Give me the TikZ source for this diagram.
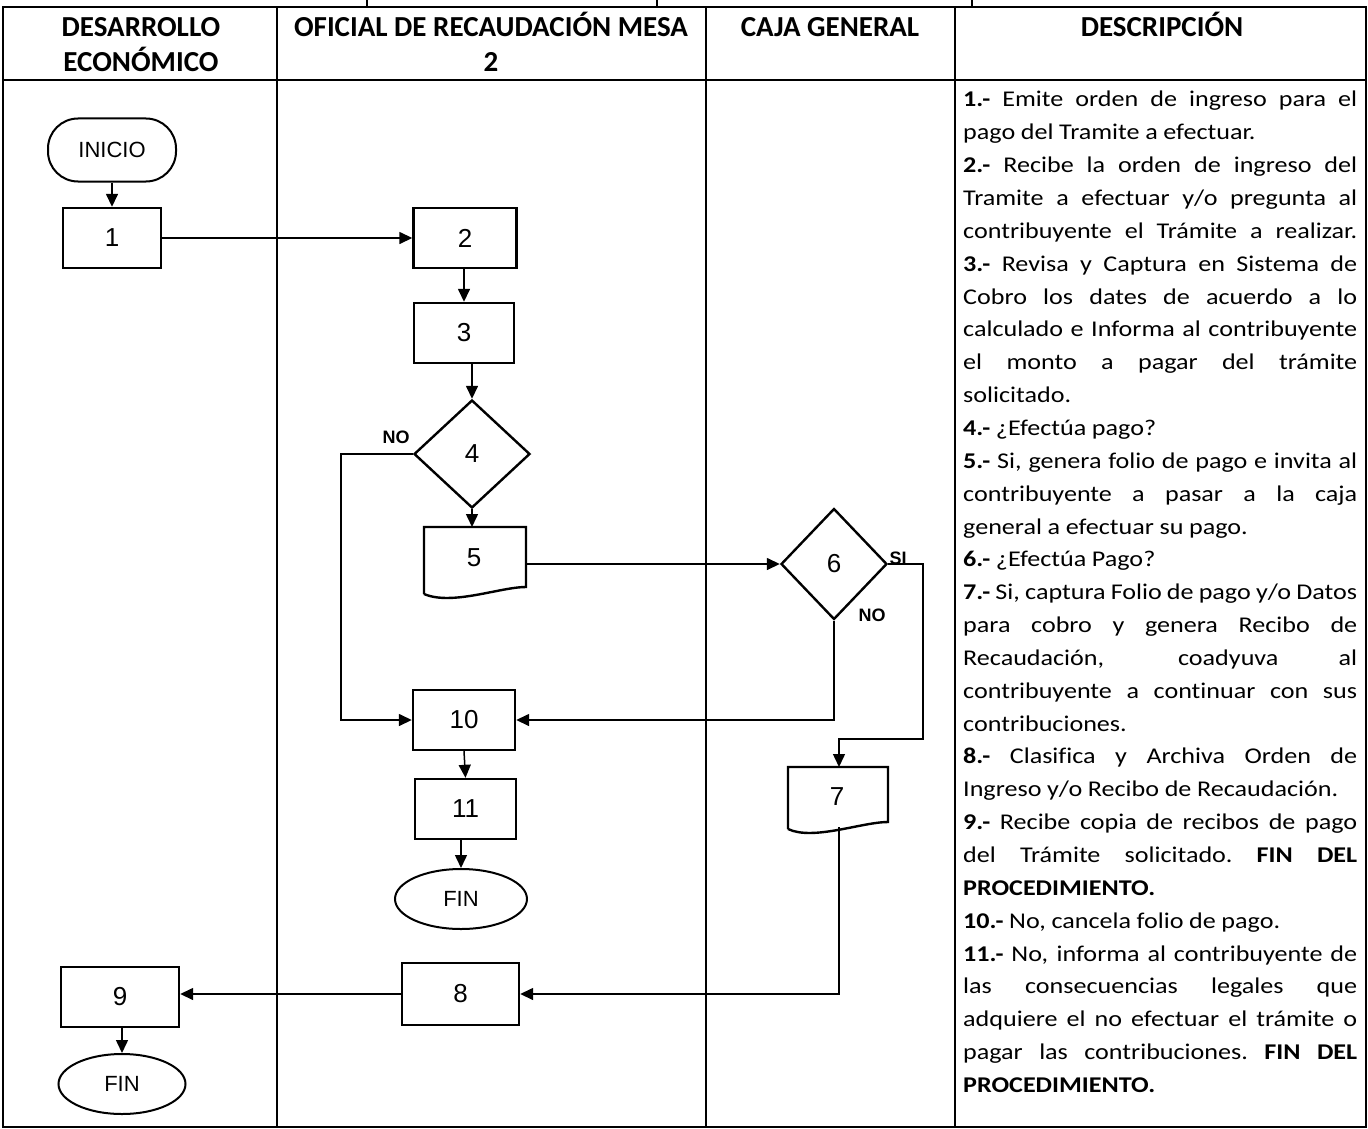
\documentclass[tikz,border=0pt]{standalone}
\usepackage{fontspec}
\setmainfont{Carlito}
\newfontfamily\descf{Carlito}[FakeStretch=1.16, Ligatures=NoCommon]
\newfontfamily\arialf{Liberation Sans}
\usetikzlibrary{shapes.geometric,arrows.meta}
\newcommand\J[1]{\makebox[394pt][s]{#1}}
\tikzset{
  tab/.style={line width=1.7pt},
  hdr/.style={inner sep=0pt, font=\bfseries\fontsize{29}{29}\selectfont},
  pbox/.style={draw, line width=2.4pt, minimum width=100pt, minimum height=60pt, inner sep=0pt, font=\arialf\fontsize{26}{26}\selectfont},
  dec/.style={draw, diamond, line width=2.4pt, inner sep=0pt, font=\arialf\fontsize{26}{26}\selectfont},
  term/.style={draw, ellipse, line width=2pt, inner sep=0pt, font=\arialf\fontsize{22}{22}\selectfont},
  startbox/.style={draw, rectangle, rounded corners=30pt, line width=2pt, inner sep=0pt, font=\arialf\fontsize{22}{22}\selectfont},
  docline/.style={line width=2.4pt, line join=miter},
  doclabel/.style={inner sep=0pt, font=\arialf\fontsize{26}{26}\selectfont},
  conn/.style={line width=1.5pt, -{Triangle[length=13pt,width=12pt]}},
  cline/.style={line width=1.5pt},
  lbl/.style={inner sep=0pt, font=\arialf\bfseries\fontsize{18}{18}\selectfont},
  desc/.style={inner sep=0pt, text width=394pt, align=left, font=\descf\fontsize{22.5}{32.85}\selectfont}
}
\begin{document}
\begin{tikzpicture}[x=1pt,y=-1pt]
\useasboundingbox (0,0) rectangle (1368,1129);
% ---------- table ----------
\draw[tab] (3,7) rectangle (1366,1127);
\draw[tab] (3,80) -- (1366,80);
\draw[tab] (277,7) -- (277,1127);
\draw[tab] (706,7) -- (706,1127);
\draw[line width=2.4pt] (955,7) -- (955,1127);
\draw[tab] (367,0) -- (367,7);
\draw[tab] (657,0) -- (657,7);
\draw[tab] (972,0) -- (972,7);
% ---------- headers ----------
\node[hdr, anchor=base] (h1a) at (141,37) {DESARROLLO};
\node[hdr, anchor=base] (h1b) at (141,72) {ECONÓMICO};
\node[hdr, anchor=base] (h2a) at (491,37) {OFICIAL DE RECAUDACIÓN MESA};
\node[hdr, anchor=base] (h2b) at (491,72) {2};
\node[hdr, anchor=base] (h3) at (830,37) {CAJA GENERAL};
\node[hdr, anchor=base] (h4) at (1162,37) {DESCRIPCIÓN};
% ---------- flow nodes ----------
\node[startbox, minimum width=128pt, minimum height=63pt] (ini) at (112,150) {INICIO};
\node[pbox, minimum width=98pt] (b1) at (112,238) {1};
\node[pbox, minimum width=103pt] (b2) at (465,238) {2};
\node[pbox] (b3) at (464,333) {3};
\node[dec, minimum width=116pt, minimum height=108pt] (d4) at (472,454) {4};
% document 5
\draw[docline] (424,594) -- (424,527) -- (526,527) -- (526,587)
   .. controls (500,587) and (452,606) .. (424,594);
\node[doclabel] (b5) at (474,558) {5};
\coordinate (b5top) at (472,527);
\coordinate (b5r) at (526,564);
\node[dec, minimum width=106pt, minimum height=111pt] (d6) at (834,564) {6};
% document 7
\draw[docline] (788,829) -- (788,767) -- (888,767) -- (888,822)
   .. controls (862,822) and (813,841) .. (788,829);
\node[doclabel] (b7) at (837,797) {7};
\coordinate (b7top) at (839,767);
\coordinate (b7bot) at (839,827);
\node[pbox, minimum width=102pt] (b10) at (464,720) {10};
\node[pbox, minimum width=101pt, minimum height=60pt] (b11) at (465.5,809) {11};
\node[term, minimum width=132pt, minimum height=60pt] (fin1) at (461,899) {FIN};
\node[pbox, minimum width=117pt, minimum height=62pt] (b8) at (460.5,994) {8};
\node[pbox, minimum width=118pt] (b9) at (120,997) {9};
\node[term, minimum width=127pt, minimum height=60pt] (fin2) at (122,1084) {FIN};
% labels
\node[lbl] (no4) at (396,437) {NO};
\node[lbl] (si6) at (898,558) {SI};
\node[lbl] (no6) at (872,615) {NO};
% ---------- connectors ----------
\draw[conn] (ini.south) -- (b1.north);
\draw[conn] (b1.east) -- (b2.west);
\draw[conn] (b2.south -| b3.south) -- (b3.north);
\draw[conn] (d4.north |- b3.south) -- (d4.north);
\draw[conn] (d4.south) -- (b5top);
\draw[conn] (b5r) -- (d6.west);
\draw[conn] (d4.west) -- ++(-72,0) |- (b10.west);
\draw[conn] (d6.south) |- (b10.east);
\draw[conn] (d6.east) -| (923,739) -| (b7top);
\draw[conn] (b10.south) -- (b11.north);
\draw[conn] (b11.south -| fin1.north) -- (fin1.north);
\draw[conn] (b7bot) |- (b8.east);
\draw[conn] (b8.west) -- (b9.east |- b8.west);
\draw[conn] (b9.south -| fin2.north) -- (fin2.north);
% ---------- description ----------
\node[desc, anchor=base west] (desc) at (963,107) {%
\spaceskip=.25em plus 4em minus .1em\relax\xspaceskip=\spaceskip
\J{\textbf{1.-} Emite orden de ingreso para el}\\
pago del Tramite a efectuar.\\
\J{\textbf{2.-} Recibe la orden de ingreso del}\\
\J{Tramite a efectuar y/o pregunta al}\\
\J{contribuyente el Trámite a realizar.}\\
\J{\textbf{3.-} Revisa y Captura en Sistema de}\\
\J{Cobro los dates de acuerdo a lo}\\
\J{calculado e Informa al contribuyente}\\
\J{el monto a pagar del trámite}\\
solicitado.\\
\textbf{4.-} ¿Efectúa pago?\\
\J{\textbf{5.-} Si, genera folio de pago e invita al}\\
\J{contribuyente a pasar a la caja}\\
general a efectuar su pago.\\
\textbf{6.-} ¿Efectúa Pago?\\
\J{\textbf{7.-} Si, captura Folio de pago y/o Datos}\\
\J{para cobro y genera Recibo de}\\
\J{Recaudación, coadyuva al}\\
\J{contribuyente a continuar con sus}\\
contribuciones.\\
\J{\textbf{8.-} Clasifica y Archiva Orden de}\\
Ingreso y/o Recibo de Recaudación.\\
\J{\textbf{9.-} Recibe copia de recibos de pago}\\
\J{del Trámite solicitado. \textbf{FIN DEL}}\\
\textbf{PROCEDIMIENTO.}\\
\textbf{10.-} No, cancela folio de pago.\\
\J{\textbf{11.-} No, informa al contribuyente de}\\
\J{las consecuencias legales que}\\
\J{adquiere el no efectuar el trámite o}\\
\J{pagar las contribuciones. \textbf{FIN DEL}}\\
\textbf{PROCEDIMIENTO.}};
\end{tikzpicture}
\end{document}
